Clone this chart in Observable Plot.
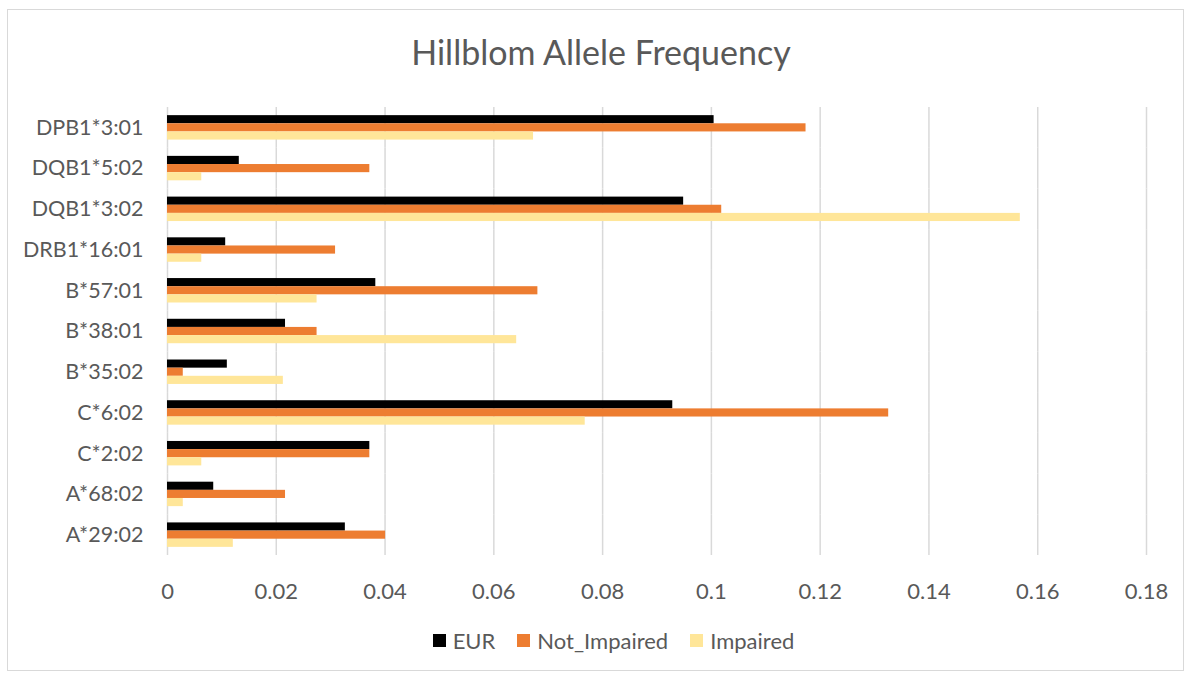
<!DOCTYPE html>
<html>
<head>
<meta charset="utf-8">
<script src="https://cdn.jsdelivr.net/npm/d3@7"></script>
<script src="https://cdn.jsdelivr.net/npm/@observablehq/plot@0.6"></script>
<style>
  body { margin: 0; background: #fff; font-family: Lato, "Open Sans", sans-serif; }
  #frame { position: relative; width: 1189px; height: 675px; overflow: hidden; background: #fff; }
  #border { position: absolute; left: 7px; top: 9px; width: 1177px; height: 662px; border: 1px solid #d9d9d9; box-sizing: border-box; }
  #title { position: absolute; left: 0; top: 32px; width: 1202px; text-align: center; font-size: 34px; line-height: 40px; color: #595959; }
  #chart { position: absolute; left: 0; top: 90px; }
  #legend { position: absolute; left: 0; top: 628px; width: 1189px; height: 24px; display: flex; justify-content: center; align-items: center; font-size: 22px; color: #595959; padding-left: 38px; box-sizing: border-box; }
  .item { display: flex; align-items: center; margin: 0 11px; }
  .sw { width: 13px; height: 13px; margin-right: 7px; }
</style>
</head>
<body>
<div id="frame">
  <div id="border"></div>
  <div id="title">Hillblom Allele Frequency</div>
  <div id="chart"></div>
  <div id="legend"></div>
</div>
<script>
// Alleles, listed top to bottom
const alleles = ["DPB1*3:01", "DQB1*5:02", "DQB1*3:02", "DRB1*16:01", "B*57:01", "B*38:01",
                 "B*35:02", "C*6:02", "C*2:02", "A*68:02", "A*29:02"];
const series = ["EUR", "Not_Impaired", "Impaired"];
const colors = ["#000000", "#ED7D31", "#FFE699"];

// Allele frequency per group
const eur         = [0.1005, 0.0132, 0.0949, 0.0107, 0.0383, 0.0217, 0.0110, 0.0929, 0.0372, 0.0085, 0.0327];
const notImpaired = [0.1174, 0.0372, 0.1019, 0.0309, 0.0681, 0.0275, 0.0029, 0.1326, 0.0372, 0.0217, 0.0401];
const impaired    = [0.0673, 0.0063, 0.1568, 0.0063, 0.0275, 0.0642, 0.0213, 0.0768, 0.0063, 0.0029, 0.0121];

const xTicks = [0, 0.02, 0.04, 0.06, 0.08, 0.1, 0.12, 0.14, 0.16, 0.18];

const rows = [];
const byGroup = [eur, notImpaired, impaired];
alleles.forEach((a, i) => {
  series.forEach((s, j) => rows.push({allele: a, group: s, value: byGroup[j][i]}));
});

const chart = Plot.plot({
  width: 1189,
  height: 520,
  marginLeft: 167,
  marginRight: 43,
  marginTop: 17,
  marginBottom: 55,
  style: {fontFamily: "Lato, 'Open Sans', sans-serif", fontSize: "22px", color: "#595959", background: "transparent"},
  x: {domain: [0, 0.18], ticks: xTicks, tickFormat: d3.format("~g"), tickSize: 0, tickPadding: 28, label: null},
  y: {domain: series, paddingInner: 0, paddingOuter: 1, round: false, axis: null},
  fy: {domain: alleles, padding: 0, round: false, axis: null},
  color: {domain: series, range: colors},
  marks: [
    Plot.gridX(xTicks, {stroke: "#d9d9d9", strokeOpacity: 1, strokeWidth: 1.5}),
    Plot.barX(rows, {fy: "allele", y: "group", x: "value", fill: "group"}),
    Plot.axisFy({anchor: "left", tickSize: 0, tickPadding: 24, fontSize: 21.5, label: null})
  ]
});
document.getElementById("chart").appendChild(chart);

const legend = document.getElementById("legend");
series.forEach((s, j) => {
  const item = document.createElement("div");
  item.className = "item";
  const sw = document.createElement("div");
  sw.className = "sw";
  sw.style.background = colors[j];
  const label = document.createElement("span");
  label.textContent = s;
  item.appendChild(sw);
  item.appendChild(label);
  legend.appendChild(item);
});
</script>
</body>
</html>
